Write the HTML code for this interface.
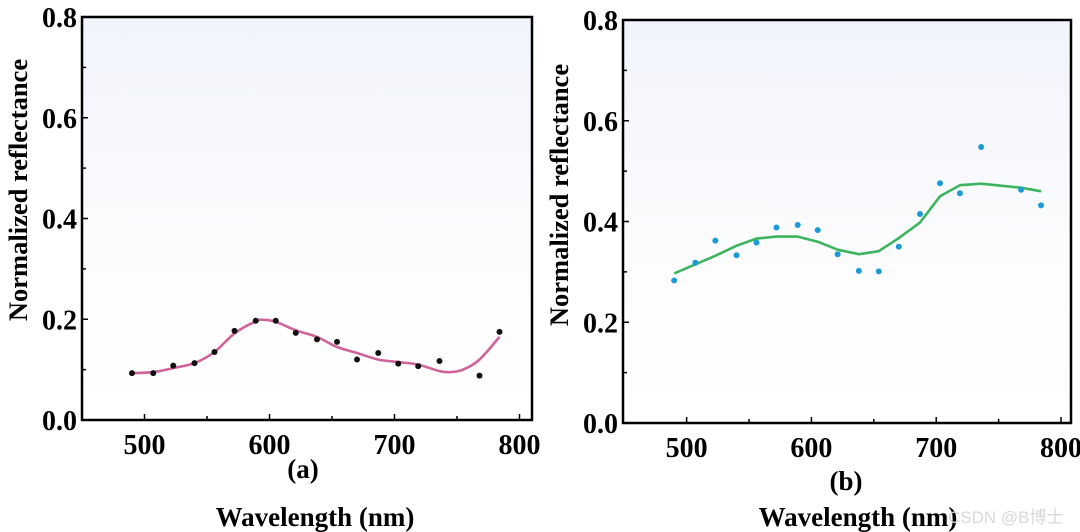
<!DOCTYPE html>
<html><head><meta charset="utf-8"><style>
html,body{margin:0;padding:0;background:#fff;}
svg{display:block;font-family:"Liberation Serif",serif;font-weight:bold;}
</style></head><body>
<svg id="fig" width="1080" height="532" viewBox="0 0 1080 532">
<defs>
<linearGradient id="bg" x1="0" y1="0" x2="0" y2="1">
<stop offset="0" stop-color="#f1f4fb"/><stop offset="0.65" stop-color="#fdfdfe"/><stop offset="1" stop-color="#ffffff"/>
</linearGradient>
</defs>
</svg>
<script>
const xTicks=[500,600,700,800];
const yTicks=[0.0,0.2,0.4,0.6,0.8];
const aPointX=[490,507,523,540,556,572,589,605,621,638,654,670,687,703,719,736,768,784];
const aPointY=[0.093,0.093,0.108,0.113,0.135,0.177,0.197,0.197,0.173,0.16,0.155,0.12,0.133,0.112,0.107,0.117,0.088,0.175];
const aCurveX=[490,507,523,540,556,572,589,595,605,621,638,654,670,687,703,719,736,745,755,768,784];
const aCurveY=[0.093,0.095,0.103,0.113,0.135,0.172,0.196,0.199,0.195,0.178,0.165,0.145,0.133,0.12,0.115,0.11,0.097,0.095,0.1,0.12,0.165];
const bPointX=[490,507,523,540,556,572,589,605,621,638,654,670,687,703,719,736,768,784];
const bPointY=[0.283,0.318,0.362,0.333,0.358,0.388,0.393,0.383,0.335,0.302,0.301,0.35,0.415,0.476,0.456,0.548,0.463,0.432];
const bLineX=[490,507,523,540,556,572,589,605,621,638,654,670,687,703,719,736,768,784];
const bLineY=[0.297,0.315,0.332,0.352,0.366,0.370,0.370,0.360,0.344,0.335,0.341,0.367,0.398,0.450,0.472,0.475,0.467,0.460];

const NS="http://www.w3.org/2000/svg";
const svg=document.getElementById('fig');
function mk(tag,attrs,parent){const e=document.createElementNS(NS,tag);for(const k in attrs)e.setAttribute(k,attrs[k]);(parent||svg).appendChild(e);return e;}
function smoothPath(p){
  let d='M'+p[0][0].toFixed(1)+','+p[0][1].toFixed(1);
  for(let i=0;i<p.length-1;i++){
    const p0=p[i-1]||p[i],p1=p[i],p2=p[i+1],p3=p[i+2]||p2;
    const c1=[p1[0]+(p2[0]-p0[0])/6,p1[1]+(p2[1]-p0[1])/6];
    const c2=[p2[0]-(p3[0]-p1[0])/6,p2[1]-(p3[1]-p1[1])/6];
    d+=` C${c1[0].toFixed(1)},${c1[1].toFixed(1)} ${c2[0].toFixed(1)},${c2[1].toFixed(1)} ${p2[0].toFixed(1)},${p2[1].toFixed(1)}`;
  }
  return d;
}
function panel(cfg){
  const g=mk('g',{});
  
  
  const X=v=>cfg.left+(v-cfg.xmin)*(cfg.right-cfg.left)/(cfg.xmax-cfg.xmin);
  const Y=v=>cfg.bottom-(v-0)*(cfg.bottom-cfg.top)/0.8;
  const bg=mk('rect',{x:cfg.left,y:cfg.top,width:cfg.right-cfg.left,height:cfg.bottom-cfg.top,fill:'url(#bg)'},g);
  
  
  for(let v=0.1;v<0.8;v+=0.2){mk('line',{x1:cfg.left,x2:cfg.left+4,y1:Y(v),y2:Y(v),stroke:'#000','stroke-width':1.5},g);}
  for(let v=550;v<800;v+=100){mk('line',{x1:X(v),x2:X(v),y1:cfg.bottom,y2:cfg.bottom-4,stroke:'#000','stroke-width':1.5},g);}
  yTicks.forEach(v=>{
    mk('line',{x1:cfg.left,x2:cfg.left+6,y1:Y(v),y2:Y(v),stroke:'#000','stroke-width':1.5},g);
    const t=mk('text',{x:cfg.left-5,y:Y(v)+10,'text-anchor':'end','font-size':28},g);
    t.textContent=v.toFixed(1);
    
    
  });
  xTicks.forEach(v=>{
    mk('line',{x1:X(v),x2:X(v),y1:cfg.bottom,y2:cfg.bottom-6,stroke:'#000','stroke-width':1.5},g);
    const t=mk('text',{x:X(v),y:cfg.bottom+34,'text-anchor':'middle','font-size':28},g);
    t.textContent=v;
    
    
  });
  const fr=mk('rect',{x:cfg.left,y:cfg.top,width:cfg.right-cfg.left,height:cfg.bottom-cfg.top,fill:'none',stroke:'#000','stroke-width':2.5},g);
  
  
  const p=cfg.lx.map((x,i)=>[X(x),Y(cfg.ly[i])]);
  let pl;
  if(cfg.smooth){pl=mk('path',{d:smoothPath(p),fill:'none',stroke:cfg.lineColor,'stroke-width':2.6},g);}
  else{pl=mk('polyline',{points:p.map(q=>q[0].toFixed(1)+','+q[1].toFixed(1)).join(' '),fill:'none',stroke:cfg.lineColor,'stroke-width':2.6,'stroke-linejoin':'round'},g);}
  
  
  cfg.px.forEach((x,i)=>{
    const c=mk('circle',{cx:X(x),cy:Y(cfg.py[i]),r:3,fill:cfg.dotColor},g);
    
    
  });
  const yl=mk('text',{transform:`translate(${cfg.ylx},${cfg.yly}) rotate(-90)`,'text-anchor':'middle','font-size':26.5},g);
  yl.textContent='Normalized reflectance';
  
  
  const pa=mk('text',{x:cfg.capx,y:cfg.capy,'text-anchor':'middle','font-size':27},g);
  pa.textContent=cfg.cap;
  
  
  const xl=mk('text',{x:cfg.xlx,y:cfg.xly,'text-anchor':'middle','font-size':27},g);
  xl.textContent='Wavelength (nm)';
  
  
}
panel({name:'panel-a',left:82,right:532,top:17,bottom:420,xmin:450,xmax:810,smooth:true,
  px:aPointX,py:aPointY,lx:aCurveX,ly:aCurveY,lineColor:'#d0649a',dotColor:'#111',
  ylx:27,yly:190,cap:'(a)',capx:303,capy:478,xlx:315,xly:526});
panel({name:'panel-b',left:623,right:1071,top:20,bottom:423,xmin:449,xmax:808,smooth:false,
  px:bPointX,py:bPointY,lx:bLineX,ly:bLineY,lineColor:'#3db55e',dotColor:'#1d9ad6',
  ylx:568,yly:195,cap:'(b)',capx:846,capy:490,xlx:858,xly:526});
const wm=mk('text',{x:948,y:523,'font-size':17,fill:'#d8d8d8','font-weight':'normal','font-family':'"Liberation Sans","Noto Sans CJK SC",sans-serif'});
wm.textContent='CSDN @B博士';


</script>
</body></html>
